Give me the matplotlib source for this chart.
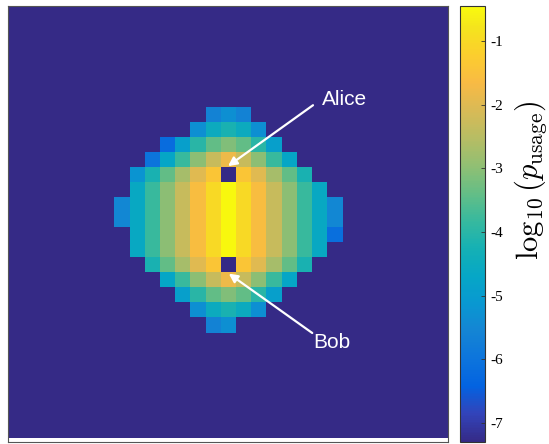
import numpy as np
import matplotlib
matplotlib.use("Agg")
import matplotlib.pyplot as plt
from matplotlib.colors import LinearSegmentedColormap

# parula-like colormap (MATLAB default)
parula_pos = [0, 4, 8, 12, 16, 20, 24, 28, 32, 36, 40, 44, 48, 52, 56, 60, 63]
parula_rgb = [
    (0.2081, 0.1663, 0.5292), (0.1959, 0.2645, 0.7279), (0.0117, 0.3875, 0.8820),
    (0.0498, 0.4586, 0.8641), (0.0793, 0.5200, 0.8312), (0.0343, 0.5966, 0.8199),
    (0.0228, 0.6535, 0.7768), (0.0843, 0.6928, 0.7062), (0.2178, 0.7250, 0.6193),
    (0.3953, 0.7459, 0.5244), (0.5709, 0.7485, 0.4494), (0.7184, 0.7411, 0.3905),
    (0.8507, 0.7299, 0.3360), (0.9739, 0.7314, 0.2666), (0.9880, 0.8066, 0.1794),
    (0.9589, 0.8949, 0.1132), (0.9763, 0.9831, 0.0538),
]
parula = LinearSegmentedColormap.from_list(
    "parula", [(p / 63, c) for p, c in zip(parula_pos, parula_rgb)])

# log10(p_usage) on a 29 x 29 grid; B = never used (Alice/Bob too)
B = -7.5
n_grid = 29
block_row0, block_col0 = 7, 7
block = [
    [B, B, B, B, B, B, -5.6, -5.3, -5.6, B, B, B, B, B, B],
    [B, B, B, B, B, -5.3, -4.5, -4.2, -4.5, -5.3, B, B, B, B, B],
    [B, B, B, -6.2, -4.9, -4.0, -3.4, -3.1, -3.4, -4.0, -4.9, B, B, B, B],
    [B, B, -6.0, -4.7, -3.8, -3.0, -2.3, -1.8, -2.3, -3.0, -3.8, -4.7, B, B, B],
    [B, -5.2, -4.2, -3.4, -2.7, -2.0, -1.4, B, -1.4, -2.0, -2.7, -3.4, -4.2, B, B],
    [B, -4.6, -3.8, -3.0, -2.3, -1.6, -1.0, -0.5, -1.0, -1.6, -2.3, -3.0, -3.8, -4.6, B],
    [-5.5, -4.6, -3.8, -3.0, -2.3, -1.6, -1.0, -0.5, -1.0, -1.6, -2.3, -3.0, -3.8, -4.6, -5.5],
    [-5.5, -4.6, -3.8, -3.0, -2.3, -1.6, -1.0, -0.5, -1.0, -1.6, -2.3, -3.0, -3.8, -4.6, -5.5],
    [B, -4.6, -3.8, -3.0, -2.3, -1.6, -1.0, -0.5, -1.0, -1.6, -2.3, -3.0, -3.8, -4.6, -6.1],
    [B, -4.6, -3.8, -3.0, -2.3, -1.6, -1.0, -0.5, -1.0, -1.6, -2.3, -3.0, -3.8, -4.6, B],
    [B, B, -4.2, -3.4, -2.7, -2.0, -1.4, B, -1.4, -2.0, -2.7, -3.4, -4.2, B, B],
    [B, B, B, -4.7, -3.8, -3.0, -2.3, -1.8, -2.3, -3.0, -3.8, -4.7, B, B, B],
    [B, B, B, B, -4.9, -4.0, -3.4, -3.1, -3.4, -4.0, -4.9, B, B, B, B],
    [B, B, B, B, B, -5.3, -4.5, -4.2, -4.5, -5.3, B, B, B, B, B],
    [B, B, B, B, B, B, -5.6, -5.3, B, B, B, B, B, B, B],
]
alice_cell = (14, 11)   # (column, row)
bob_cell = (14, 17)
cbar_ticks = [-7, -6, -5, -4, -3, -2, -1]
vmin, vmax = -7.3, -0.45

grid = np.full((n_grid, n_grid), B)
blk = np.array(block)
grid[block_row0:block_row0 + blk.shape[0], block_col0:block_col0 + blk.shape[1]] = blk

plt.rcParams['axes.unicode_minus'] = False
plt.rcParams['mathtext.fontset'] = 'cm'

fig = plt.figure(figsize=(5.49, 4.44), dpi=100)
ax = fig.add_axes([0.0146, 0.0045, 0.8015, 0.982])
cax = fig.add_axes([0.838, 0.0045, 0.046, 0.982])

im = ax.imshow(grid, cmap=parula, vmin=vmin, vmax=vmax, aspect='auto',
               interpolation='nearest')
ax.set_ylim(n_grid - 0.25, -0.25)
ax.set_xticks([])
ax.set_yticks([])
for s in ax.spines.values():
    s.set_color('#555555')
    s.set_linewidth(0.8)

arrow = dict(arrowstyle='-|>', color='white', lw=1.6, mutation_scale=13,
             shrinkA=0, shrinkB=0)
ax.annotate('', xy=(alice_cell[0], alice_cell[1] - 0.6),
            xytext=(alice_cell[0] + 5.6, alice_cell[1] - 4.65), arrowprops=arrow)
ax.text(alice_cell[0] + 6.2, alice_cell[1] - 5.0, 'Alice', color='white',
        fontsize=15, family='Liberation Sans', va='center', ha='left')
ax.annotate('', xy=(bob_cell[0] + 0.05, bob_cell[1] + 0.55),
            xytext=(bob_cell[0] + 5.55, bob_cell[1] + 4.5), arrowprops=arrow)
ax.text(bob_cell[0] + 5.6, bob_cell[1] + 5.1, 'Bob', color='white',
        fontsize=15, family='Liberation Sans', va='center', ha='left')

cb = fig.colorbar(im, cax=cax, ticks=cbar_ticks)
cb.outline.set_linewidth(0.8)
cb.outline.set_edgecolor('#333333')
cax.tick_params(direction='in', length=3, width=0.6, color='#333333',
                labelsize=11, pad=4)
for t in cax.get_yticklabels():
    t.set_family('Liberation Serif')
cb.set_label(r'$\log_{10}(p_{\rm usage})$', fontsize=22)
cax.yaxis.set_label_coords(2.05, 0.6)

fig.savefig('out.png', dpi=100)
